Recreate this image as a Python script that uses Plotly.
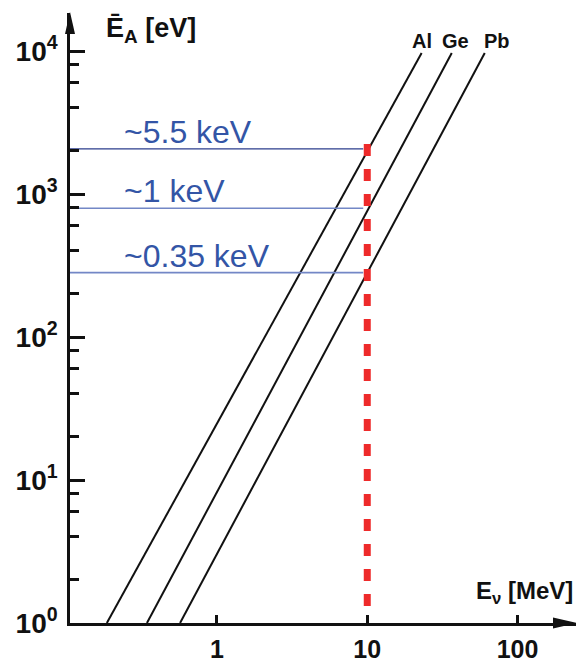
import math
import plotly.graph_objects as go

# ---------------- data ----------------
elements = ["Al", "Ge", "Pb"]
e_nu_al = [0.185, 23.0]      # MeV, endpoints of the Al line
e_nu_ge = [0.342, 36.5]      # MeV, endpoints of the Ge line
e_nu_pb = [0.568, 60.5]      # MeV, endpoints of the Pb line
e_a_ends = [1, 9700]         # eV, recoil energy at those endpoints

recoil_levels_ev = [2070, 795, 282]
recoil_labels = ["~5.5 keV", "~1 keV", "~0.35 keV"]
level_e_nu = [0.105, 9.4]    # MeV, horizontal extent of the marker lines

marker_e_nu = [10, 10]       # MeV
marker_e_a = [2240, 1.19]    # eV

x_tickvals = [1, 10, 100]
x_ticktext = ["1", "10", "100"]
y_tickvals = [1, 10, 100, 1000, 10000]
y_ticktext = ["10<sup>0</sup>", "10<sup>1</sup>", "10<sup>2</sup>", "10<sup>3</sup>", "10<sup>4</sup>"]
y_minor_vals = [m * d for d in [1, 10, 100, 1000] for m in [2, 4, 6, 8]]

# ---------------- layout constants ----------------
W, H = 576, 665
ML, MR, MT, MB = 70, 0, 13, 42
PW, PH = W - ML - MR, H - MT - MB
XR = [-0.978, 2.389]
YR = [0.0, 4.266]

def px_x(px):
    return (px - ML) / PW

def px_y(py):
    return (H - MB - py) / PH

NUM_FONT = "Liberation Sans Narrow, Liberation Sans, Arial, sans-serif"
BLUE_TXT = "#3355a6"

fig = go.Figure()

# element lines
for name, xs in zip(elements, [e_nu_al, e_nu_ge, e_nu_pb]):
    fig.add_trace(go.Scatter(x=xs, y=e_a_ends, mode="lines", name=name,
                             line=dict(color="#111111", width=2), hoverinfo="skip"))

# horizontal recoil-level lines
for i, lvl in enumerate(recoil_levels_ev):
    col = "#2b3d8c" if i == 0 else "#7387c6"
    wid = 1.3 if i == 0 else 1.6
    fig.add_trace(go.Scatter(x=level_e_nu, y=[lvl, lvl], mode="lines",
                             line=dict(color=col, width=wid), hoverinfo="skip"))

# red dashed marker at 10 MeV
fig.add_trace(go.Scatter(x=marker_e_nu, y=marker_e_a, mode="lines",
                         line=dict(color="#ee2a2a", width=7, dash="12px,13px"),
                         hoverinfo="skip"))

annotations = []
# level labels
for lvl, lab in zip(recoil_levels_ev, recoil_labels):
    annotations.append(dict(x=math.log10(0.233), y=math.log10(lvl), xref="x", yref="y",
                            text=lab, showarrow=False, xanchor="left", yanchor="middle",
                            yshift=17,
                            font=dict(family="Liberation Sans, Arial, sans-serif",
                                      size=32, color=BLUE_TXT)))

# element labels
for lab, cx in zip(elements, [422, 455, 497]):
    annotations.append(dict(x=px_x(cx), y=px_y(41), xref="paper", yref="paper",
                            text=lab, showarrow=False, xanchor="center", yanchor="middle",
                            font=dict(family=NUM_FONT, size=20, color="#111111", weight="bold")))

# axis titles
annotations.append(dict(x=px_x(104), y=px_y(30), xref="paper", yref="paper",
                        text="Ē<sub>A</sub> [eV]", showarrow=False, xanchor="left", yanchor="middle",
                        font=dict(family=NUM_FONT, size=27, color="#111111", weight="bold")))
annotations.append(dict(x=px_x(575), y=px_y(592), xref="paper", yref="paper",
                        text="E<sub>ν</sub> [MeV]", showarrow=False, xanchor="right", yanchor="middle",
                        font=dict(family=NUM_FONT, size=24, color="#111111", weight="bold")))

shapes = [
    # arrowhead on y axis
    dict(type="path", xref="paper", yref="paper",
         path=f"M {px_x(65)} {px_y(34)} L {px_x(70)} {px_y(12)} L {px_x(75)} {px_y(34)} Z",
         fillcolor="#111111", line=dict(width=0)),
    # arrowhead on x axis
    dict(type="path", xref="paper", yref="paper",
         path=f"M {px_x(553)} {px_y(617.5)} L {px_x(577)} {px_y(623)} L {px_x(553)} {px_y(628.5)} Z",
         fillcolor="#111111", line=dict(width=0)),
]

fig.update_layout(
    width=W, height=H,
    margin=dict(l=ML, r=MR, t=MT, b=MB, pad=0, autoexpand=False),
    paper_bgcolor="white", plot_bgcolor="white",
    showlegend=False,
    annotations=annotations,
    shapes=shapes,
    xaxis=dict(type="log", range=XR, showgrid=False, zeroline=False, automargin=False,
               showline=True, linecolor="#111111", linewidth=2.5,
               ticks="inside", ticklen=8, tickwidth=2.5, tickcolor="#111111",
               tickmode="array", tickvals=x_tickvals, ticktext=x_ticktext,
               ticklabelstandoff=2,
               tickfont=dict(family=NUM_FONT, size=25, color="#111111", weight="bold")),
    yaxis=dict(type="log", range=YR, showgrid=False, zeroline=False, automargin=False,
               showline=True, linecolor="#111111", linewidth=2.5,
               ticks="inside", ticklen=15, tickwidth=2.5, tickcolor="#111111",
               tickmode="array", tickvals=y_tickvals, ticktext=y_ticktext,
               ticklabelstandoff=4,
               tickfont=dict(family=NUM_FONT, size=28, color="#111111", weight="bold"),
               minor=dict(ticks="inside", ticklen=9, tickwidth=2.5, tickcolor="#111111",
                          tickmode="array", tickvals=y_minor_vals, showgrid=False)),
)

fig.write_html("out.html",
               config={"displayModeBar": False},
               post_script="document.body.style.margin='0';document.body.style.overflow='hidden';")
